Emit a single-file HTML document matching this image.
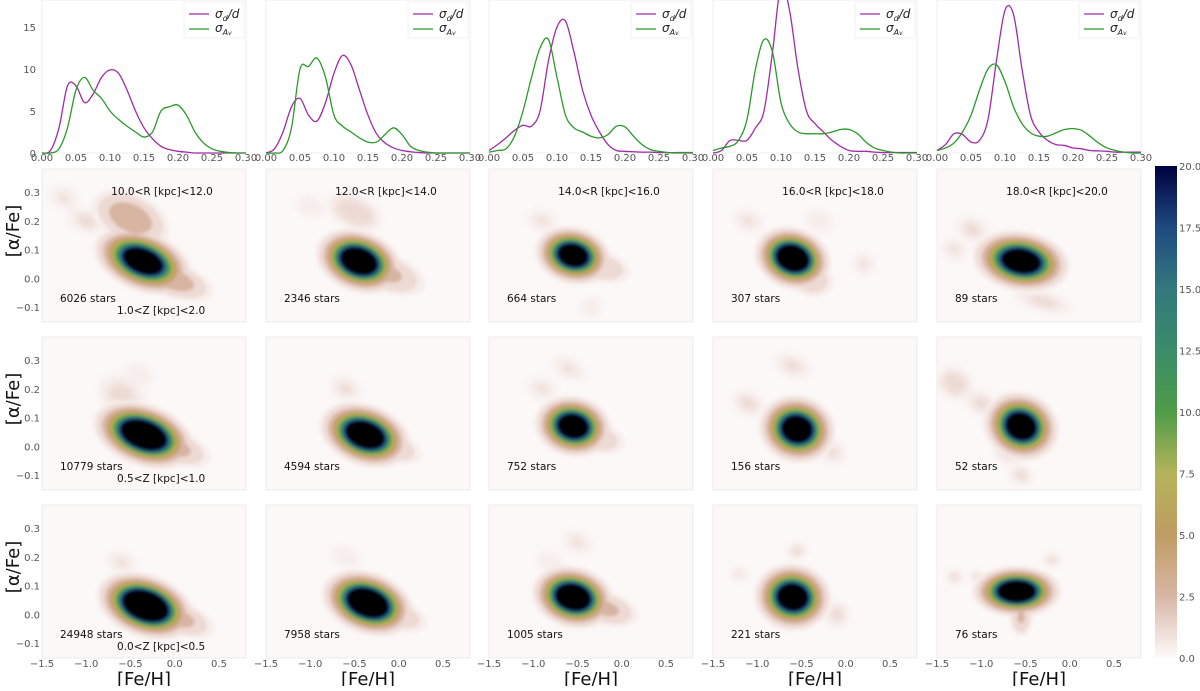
<!DOCTYPE html>
<html><head><meta charset="utf-8"><style>
body{margin:0;background:#fff;width:1200px;height:686px;overflow:hidden}
svg text{font-family:"DejaVu Sans","Liberation Sans",sans-serif}
</style></head><body>
<svg id="fig" width="1200" height="686" xmlns="http://www.w3.org/2000/svg">
<defs>
<filter id="blur" x="-50%" y="-50%" width="200%" height="200%"><feGaussianBlur stdDeviation="1.6"/></filter>
<filter id="blur2" x="-50%" y="-50%" width="200%" height="200%"><feGaussianBlur stdDeviation="3.5"/></filter>
<linearGradient id="cbg" x1="0" y1="1" x2="0" y2="0">
<stop offset="0" stop-color="#fdfafa"/><stop offset="0.125" stop-color="#d8b6a6"/><stop offset="0.25" stop-color="#bf9c62"/>
<stop offset="0.375" stop-color="#b5b35a"/><stop offset="0.5" stop-color="#4f9c48"/><stop offset="0.625" stop-color="#3a8c6a"/>
<stop offset="0.75" stop-color="#33787e"/><stop offset="0.875" stop-color="#1f4a80"/><stop offset="1" stop-color="#000040"/>
</linearGradient>
</defs>
</svg>
<script>
// ---------- data ----------
const sigX = [0,0.0125,0.025,0.0375,0.05,0.0625,0.075,0.0875,0.1,0.1125,0.125,0.1375,0.15,0.1625,0.175,0.1875,0.2,0.2125,0.225,0.2375,0.25,0.2625,0.275,0.2875,0.3];
const purple1 = [0,0.3,3,8,8,6,7,9,9.9,9.5,7.5,5,3,1.7,0.8,0.4,0.2,0.1,0,0,0,0,0,0,0];
const green1  = [0,0,0.5,3,7.5,9,7.5,6.5,5,4,3.2,2.5,1.9,2.5,5,5.5,5.7,4.5,2.5,1.2,0.5,0.2,0.05,0,0];
const purple2 = [0,0.5,2.5,5.5,6.5,4.5,3.8,6,9.5,11.6,10.5,7.5,4.5,2.3,1.2,0.6,0.3,0.15,0.05,0,0,0,0,0,0];
const green2  = [0,0,0.3,3,10,10.3,11.3,9,4.5,3.2,2.5,1.8,1.3,1.3,2.2,3,2.2,0.8,0.3,0.1,0,0,0,0,0];
const purple3 = [0.3,1,1.8,2.7,3.3,3.2,5,11,15,15.7,12,7.5,4.5,2.5,1,0.3,0.2,0.15,0.1,0.1,0.05,0.05,0,0,0];
const green3  = [0.1,0.3,0.5,2,5,9,12.5,13.5,9,4.5,3,2.5,2,1.8,2.2,3.2,3.1,2,1,0.4,0.2,0.05,0.05,0.05,0.05];
const purple4 = [0,0.3,1.5,1.5,1.5,3,5,12,20,17,10,5,3.5,2.5,1.5,0.8,0.3,0.2,0.2,0.1,0.05,0.05,0.05,0.05,0.05];
const green4  = [0.3,0.6,0.8,1.5,4,10,13.5,12,6,3.5,2.5,2.3,2.3,2.3,2.5,2.8,2.8,2.3,1.3,0.6,0.3,0.1,0,0,0];
const purple5 = [0.3,1,2.3,2.2,1.3,1.5,4,11,17,16.5,10,4.5,2.5,1.5,1,0.9,0.6,0.5,0.3,0.25,0.2,0.1,0.1,0.1,0.1];
const green5  = [0.3,0.6,1.2,2.5,4.5,7.5,10,10.5,8.5,5.5,3.5,2.4,2,2,2.4,2.8,2.9,2.7,2,1.2,0.6,0.3,0.1,0,0];
const purpleSeries = [purple1,purple2,purple3,purple4,purple5];
const greenSeries = [green1,green2,green3,green4,green5];
const sigXTicks = ["0.00","0.05","0.10","0.15","0.20","0.25","0.30"];
const sigYTicks = [0,5,10,15];
const rLabels = ["10.0<R [kpc]<12.0","12.0<R [kpc]<14.0","14.0<R [kpc]<16.0","16.0<R [kpc]<18.0","18.0<R [kpc]<20.0"];
const zLabels = ["1.0<Z [kpc]<2.0","0.5<Z [kpc]<1.0","0.0<Z [kpc]<0.5"];
const starCounts = [[6026,2346,664,307,89],[10779,4594,752,156,52],[24948,7958,1005,221,76]];
const fehTicks = [-1.5,-1.0,-0.5,0.0,0.5];
const alphaTicks = [0.3,0.2,0.1,0.0,-0.1];
const cbTicks = [0,2.5,5,7.5,10,12.5,15,17.5,20];
// blobs per panel: [feh, alpha, sigmaFeh, sigmaAlpha, rotDeg, peak]
const blobs = [
 [ [[-0.36,0.06,0.2,0.036,22,40],[-0.05,0.0,0.24,0.03,20,5],[-0.5,0.21,0.22,0.04,25,5],[-1.0,0.2,0.16,0.03,20,1.3],[-1.25,0.28,0.14,0.03,20,1.1]],
   [[-0.45,0.06,0.17,0.036,20,45],[-0.15,0.02,0.24,0.035,20,3.5],[-0.5,0.23,0.2,0.035,25,2],[-1.0,0.25,0.14,0.03,20,1]],
   [[-0.55,0.08,0.15,0.034,15,40],[-0.22,0.04,0.18,0.03,15,2.5],[-0.9,0.2,0.14,0.03,25,1.1],[-0.35,-0.1,0.1,0.03,20,1]],
   [[-0.6,0.07,0.15,0.036,20,45],[-0.4,0.0,0.15,0.035,20,2.5],[-1.1,0.2,0.14,0.03,25,1.1],[-0.3,0.2,0.14,0.03,20,1],[0.2,0.05,0.1,0.03,20,1.1]],
   [[-0.55,0.06,0.19,0.036,10,40],[-1.1,0.17,0.14,0.03,25,1.3],[-1.3,0.1,0.12,0.03,25,1.1],[-0.3,-0.08,0.24,0.025,15,1.3]] ],
 [ [[-0.35,0.04,0.2,0.036,20,50],[-0.02,0.0,0.22,0.03,20,4],[-0.6,0.18,0.2,0.045,25,1.4],[-0.4,0.25,0.14,0.03,20,1]],
   [[-0.38,0.04,0.18,0.036,20,45],[-0.08,0.0,0.2,0.03,20,2.5],[-0.6,0.2,0.14,0.03,25,1.2]],
   [[-0.55,0.07,0.15,0.036,12,40],[-0.28,0.03,0.18,0.03,15,2.5],[-0.9,0.2,0.14,0.03,25,1.1],[-0.6,0.27,0.16,0.03,25,1.1]],
   [[-0.55,0.06,0.15,0.04,15,40],[-1.1,0.15,0.14,0.03,25,1.3],[-0.6,0.28,0.16,0.03,20,1.2],[-0.15,-0.02,0.12,0.03,25,1.2]],
   [[-0.55,0.07,0.15,0.04,25,40],[-1.3,0.22,0.14,0.035,30,1.7],[-1.0,0.15,0.14,0.03,25,1.3],[-0.7,-0.02,0.12,0.03,25,1.3],[-0.55,-0.1,0.1,0.025,20,1.3]] ],
 [ [[-0.33,0.03,0.19,0.036,20,55],[0.02,-0.01,0.22,0.03,20,4],[-0.6,0.18,0.14,0.03,25,1.1]],
   [[-0.35,0.04,0.18,0.036,20,50],[-0.02,0.0,0.2,0.03,20,2.5],[-0.6,0.2,0.14,0.03,25,1]],
   [[-0.55,0.06,0.16,0.036,15,45],[-0.18,0.02,0.19,0.03,15,3.5],[-0.5,0.25,0.14,0.03,25,1.1],[-0.8,0.18,0.14,0.03,25,1]],
   [[-0.6,0.06,0.15,0.04,10,40],[-0.55,0.22,0.08,0.02,0,1.4],[-1.2,0.14,0.08,0.02,0,1.1],[-0.1,0.0,0.1,0.03,20,1.4]],
   [[-0.6,0.08,0.17,0.03,0,45],[-0.55,-0.01,0.07,0.035,0,3],[-1.3,0.13,0.06,0.016,0,1.6],[-1.05,0.13,0.06,0.016,0,1.4],[-0.2,0.19,0.06,0.016,0,1.6]] ]
];
const levels = [0.5,1,2.5,5,7.5,10,12.5,15,17.5,20];
const levelColors = ["#f7eeec","#eedad4","#d8b4a2","#c09c62","#b3b158","#5a9e4a","#3a8d68","#2f6f80","#16307a","#000000"];

// ---------- layout ----------
const colX = [42,266,489,713,937], pw = 204;
const topY0 = 0, topY1 = 153;
const rowY = [169,337,505], ph = 153;
const svg = document.getElementById('fig');
const NS = "http://www.w3.org/2000/svg";
function mk(tag, attrs, parent){const e=document.createElementNS(NS,tag);for(const k in attrs)e.setAttribute(k,attrs[k]);(parent||svg).appendChild(e);return e;}
function txt(s, attrs, parent){const e=mk('text',attrs,parent);e.textContent=s;return e;}
const sx = (c,v)=>colX[c]+v/0.3*pw;
const sy = v=>topY1 - v*8.4;
const fx = (c,v)=>colX[c]+(v+1.5)*88.5;
const fy = (r,v)=>rowY[r]+(0.38-v)*288;

// ---------- top KDE panels ----------
const tc = mk('clipPath',{id:'topclip'});
mk('rect',{x:0,y:0,width:1200,height:topY1+1},tc);
function smoothPath(c, ys){
  const pts = sigX.map((x,i)=>[sx(c,x), sy(ys[i])]);
  let d = `M${pts[0][0]},${pts[0][1]}`;
  for(let i=0;i<pts.length-1;i++){
    const p0=pts[Math.max(0,i-1)],p1=pts[i],p2=pts[i+1],p3=pts[Math.min(pts.length-1,i+2)];
    const c1=[p1[0]+(p2[0]-p0[0])/6,p1[1]+(p2[1]-p0[1])/6];
    const c2=[p2[0]-(p3[0]-p1[0])/6,p2[1]-(p3[1]-p1[1])/6];
    d+=` C${c1[0]},${c1[1]} ${c2[0]},${c2[1]} ${p2[0]},${p2[1]}`;
  }
  return d;
}
for(let c=0;c<5;c++){
  const g = mk('g',{});
  
  
  mk('rect',{x:colX[c],y:topY0,width:pw,height:topY1-topY0,fill:'#fff',stroke:'#eeeeee','stroke-width':1},g);
  const pl = mk('path',{d:smoothPath(c,purpleSeries[c]),fill:'none',stroke:'#a22aa8','stroke-width':1.3,'clip-path':'url(#topclip)'},g);
  
  
  const gl = mk('path',{d:smoothPath(c,greenSeries[c]),fill:'none',stroke:'#2a9a2a','stroke-width':1.3,'clip-path':'url(#topclip)'},g);
  
  
  const lg = mk('g',{},g);
  
  
  const lx = colX[c]+pw-57;
  mk('rect',{x:lx-5,y:2,width:60,height:36,fill:'#fff',stroke:'#f2f2f2'},lg);
  mk('line',{x1:lx,y1:14,x2:lx+20,y2:14,stroke:'#a22aa8','stroke-width':1.3},lg);
  mk('line',{x1:lx,y1:29,x2:lx+20,y2:29,stroke:'#2a9a2a','stroke-width':1.3},lg);
  const t1 = txt('',{x:lx+26,y:18,'font-size':12,'font-style':'italic',fill:'#222'},lg);
  t1.innerHTML='σ<tspan font-size="8" dy="3">d</tspan><tspan dy="-3">/d</tspan>';
  const t2 = txt('',{x:lx+26,y:32,'font-size':12,'font-style':'italic',fill:'#222'},lg);
  t2.innerHTML='σ<tspan font-size="8" dy="3">A<tspan font-size="6">v</tspan></tspan>';
  sigXTicks.forEach((t,i)=>{
    const e = txt(t,{x:sx(c,+t),y:topY1+8,'font-size':10,'text-anchor':'middle',fill:'#555'});
    
    
  });
}
sigYTicks.forEach(v=>{
  const e = txt(String(v),{x:36,y:sy(v)+4,'font-size':10,'text-anchor':'end',fill:'#555'});
  
  
});

// ---------- heatmap panels ----------
for(let r=0;r<3;r++){
  const cp = mk('clipPath',{id:'hc'+r});
  for(let c=0;c<5;c++) mk('rect',{x:colX[c],y:rowY[r],width:pw,height:ph},cp);
}
for(let r=0;r<3;r++){
  for(let c=0;c<5;c++){
    const g = mk('g',{});
    
    
    mk('rect',{x:colX[c],y:rowY[r],width:pw,height:ph,fill:'#fcf8f8',stroke:'#f0eaea','stroke-width':1},g);
    const clipG = mk('g',{'clip-path':'url(#hc'+r+')'},g);
    const faintG = mk('g',{filter:'url(#blur2)'},clipG);
    const bg = mk('g',{filter:'url(#blur)'},clipG);
    levels.forEach((t,li)=>{
      blobs[r][c].forEach(b=>{
        const [fe,al,sf,sa,rot,P]=b;
        if(P<=t) return;
        const k = Math.sqrt(2*Math.log(P/t));
        const cx=fx(c,fe), cy=fy(r,al);
        const e = mk('ellipse',{cx:cx,cy:cy,rx:sf*88.5*k,ry:sa*288*k,fill:levelColors[li],transform:`rotate(${rot} ${cx} ${cy})`}, P<2.5?faintG:bg);
        
        
      });
    });
    if(r===0){
      const e = txt(rLabels[c],{x:colX[c]+120,y:rowY[r]+26,'font-size':10.5,'text-anchor':'middle',fill:'#111'});
      
      
    }
    const s = txt(starCounts[r][c]+' stars',{x:colX[c]+18,y:rowY[r]+133,'font-size':10.5,fill:'#111'});
    
    
    if(c===0){
      const z = txt(zLabels[r],{x:colX[c]+75,y:rowY[r]+145,'font-size':10.5,fill:'#111'});
      
      
      alphaTicks.forEach(v=>{
        const e = txt(v<0?'−'+Math.abs(v).toFixed(1):v.toFixed(1),{x:40,y:fy(r,v)+4,'font-size':10,'text-anchor':'end',fill:'#555'});
        
        
      });
      const yt = txt('[α/Fe]',{x:0,y:0,'font-size':18,'text-anchor':'middle',fill:'#111',transform:`translate(19 ${rowY[r]+62}) rotate(-90)`});
      
      
    }
    if(r===2){
      fehTicks.forEach(v=>{
        const e = txt(v<0?'−'+Math.abs(v).toFixed(1):v.toFixed(1),{x:fx(c,v),y:667,'font-size':10,'text-anchor':'middle',fill:'#555'});
        
        
      });
      const xt = txt('[Fe/H]',{x:colX[c]+pw/2,y:685,'font-size':18,'text-anchor':'middle',fill:'#111'});
      
      
    }
  }
}

// ---------- colorbar ----------
const cb = mk('rect',{x:1155,y:166,width:22,height:492,fill:'url(#cbg)'});


cbTicks.forEach(v=>{
  const y = 658 - v/20*492;
  const e = txt(v.toFixed(1),{x:1179,y:y+4,'font-size':10,fill:'#555'});
  
  
});
</script>
</body></html>
